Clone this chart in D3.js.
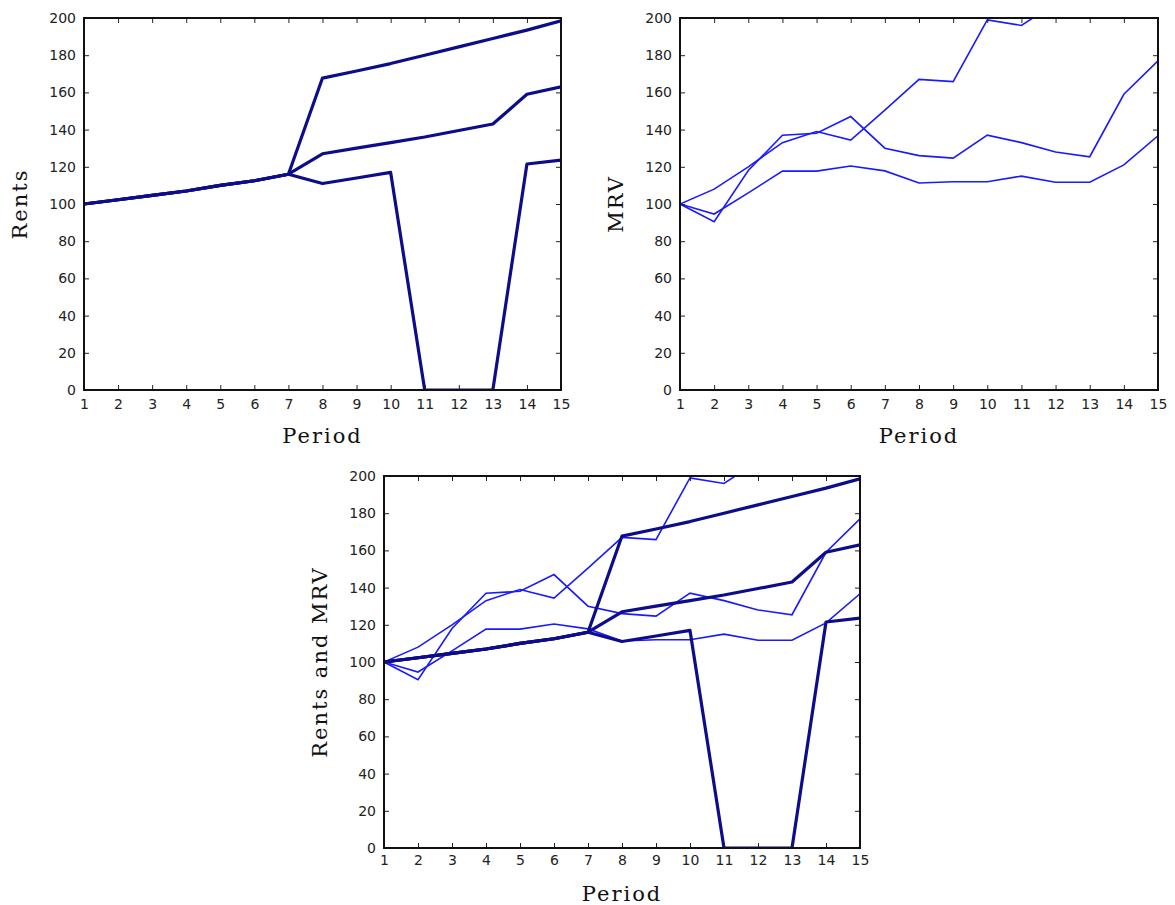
<!DOCTYPE html>
<html><head><meta charset="utf-8">
<script src="https://cdn.jsdelivr.net/npm/d3@7"></script>
<style>
body{margin:0;background:#fff;}
.tick text{font-family:"DejaVu Sans",sans-serif;font-size:14px;fill:#222;}
.lab{font-family:"DejaVu Serif",serif;font-size:21px;letter-spacing:2px;fill:#111;}
</style></head><body><svg id="c" width="1175" height="905"></svg>
<script>
const periods = d3.range(1, 16);
const yTicks = [0, 20, 40, 60, 80, 100, 120, 140, 160, 180, 200];
const common = [100, 102.3, 104.6, 107, 110, 112.5, 116];
const rentA = common.concat([167.7, 171.5, 175.5, 180, 184.5, 189, 193.5, 198.5]);
const rentB = common.concat([127, 130, 133, 136, 139.5, 143, 159, 163]);
const rentC = common.concat([111, 114, 117, 0, 0, 0, 121.5, 123.6]);
const mrv1 = [100, 108, 120, 133, 139, 134.4, 150.5, 167, 165.8, 199, 196, 208, 215, 222, 230];
const mrv2 = [100, 90.5, 118, 137, 138, 147, 130, 126, 124.7, 137, 133, 128, 125.4, 159, 177];
const mrv3 = [100, 94.6, 106, 117.7, 117.7, 120.4, 117.8, 111.3, 112, 112, 115, 111.7, 111.7, 121, 136.7];
const rents = [rentA, rentB, rentC];
const mrvs = [mrv1, mrv2, mrv3];

const svg = d3.select("#c");
svg.append("defs").selectAll("clipPath").data([0,1,2]).join("clipPath")
  .attr("id", d => "clip" + d).append("rect");

function panel(idx, x0, x1, y0, y1, ylabel, showRents, showMrv) {
  const x = d3.scaleLinear().domain([1, 15]).range([x0, x1]);
  const y = d3.scaleLinear().domain([0, 200]).range([y1, y0]);
  d3.select("#clip" + idx + " rect").attr("x", x0).attr("y", y0).attr("width", x1 - x0).attr("height", y1 - y0);
  const g = svg.append("g");
  const line = d3.line().x((d, i) => x(periods[i])).y(d => y(d));
  const lines = g.append("g").attr("clip-path", `url(#clip${idx})`);
  if (showMrv) mrvs.forEach(s => lines.append("path").attr("d", line(s)).attr("fill", "none").attr("stroke", "#1a1aff").attr("stroke-width", 1.6));
  if (showRents) rents.forEach(s => lines.append("path").attr("d", line(s)).attr("fill", "none").attr("stroke", "#0d0d8a").attr("stroke-width", 3.2).attr("stroke-linejoin", "round"));
  const ax = (a) => a.call(s => s.select(".domain").remove()).call(s => s.selectAll("line").attr("stroke", "#222"));
  g.append("g").attr("transform", `translate(0,${y1})`).call(d3.axisBottom(x).tickValues(periods).tickSize(-5).tickPadding(9).tickFormat(d3.format("d"))).call(ax);
  g.append("g").attr("transform", `translate(0,${y0})`).call(d3.axisTop(x).tickValues(periods).tickSize(-5).tickFormat("")).call(ax);
  g.append("g").attr("transform", `translate(${x0},0)`).call(d3.axisLeft(y).tickValues(yTicks).tickSize(-5).tickPadding(8)).call(ax);
  g.append("g").attr("transform", `translate(${x1},0)`).call(d3.axisRight(y).tickValues(yTicks).tickSize(-5).tickFormat("")).call(ax);
  g.append("rect").attr("x", x0).attr("y", y0).attr("width", x1 - x0).attr("height", y1 - y0)
    .attr("fill", "none").attr("stroke", "#111").attr("stroke-width", 2);
  g.append("text").attr("class", "lab").attr("text-anchor", "middle")
    .attr("x", (x0 + x1) / 2).attr("y", y1 + 53).text("Period");
  g.append("text").attr("class", "lab").attr("text-anchor", "middle")
    .attr("transform", `translate(${x0 - 57},${(y0 + y1) / 2}) rotate(-90)`).text(ylabel);
}
panel(0, 84, 561, 18, 390, "Rents", true, false);
panel(1, 680, 1158, 18, 390, "MRV", false, true);
panel(2, 384, 860, 476, 848, "Rents and MRV", true, true);
svg.selectAll(".tick text").filter(function(){return this.parentNode.parentNode.getAttribute("transform").includes(",848)");}).attr("dy","0.6em");
</script></body></html>
